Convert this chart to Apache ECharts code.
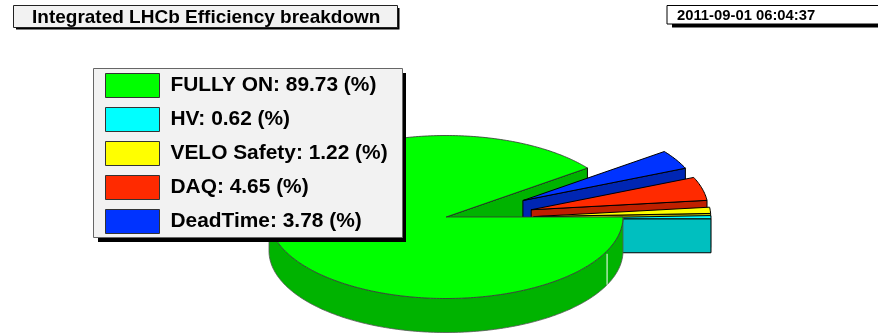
<!DOCTYPE html>
<html>
<head>
<meta charset="utf-8">
<style>html,body{margin:0;padding:0;background:#fff}#chart{width:878px;height:333px}</style>
<script src="https://cdn.jsdelivr.net/npm/echarts@6/dist/echarts.min.js"></script>
</head>
<body>
<div id="chart"></div>
<script>
// Share of integrated luminosity per state, in percent.
const categories = ['FULLY ON', 'HV', 'VELO Safety', 'DAQ', 'DeadTime'];
const efficiency = [89.73, 0.62, 1.22, 4.65, 3.78];
const faceColors = ['#00ff00', '#00ffff', '#ffff00', '#ff2a00', '#0033ff'];
const wallColors = ['#00b300', '#00bfbf', '#bfbf00', '#bf2000', '#0026b3'];
const chartTitle = 'Integrated LHCb Efficiency breakdown';
const stampText = '2011-09-01 06:04:37';

// Pseudo-3D pie geometry.
const RX = 177, RY = 81.5, DEPTH = 34;
const MAIN_CENTER = [446, 217];
const EXPLODE_CENTER = [452, 219.5];
const EXPLODE = 82;
const RAD = Math.PI / 180;
const ARC_STEP = 1;

// Slices run counter-clockwise from 0 deg, the main slice closing the circle.
const total = efficiency.reduce((a, b) => a + b, 0);
const spans = {};
let cursor = 0;
[1, 2, 3, 4, 0].forEach(i => {
  const sweep = efficiency[i] / total * 360;
  spans[i] = [cursor, cursor + sweep];
  cursor += sweep;
});

function centerOf(i) {
  if (i === 0) return MAIN_CENTER;
  const mid = (spans[i][0] + spans[i][1]) / 2 * RAD;
  return [EXPLODE_CENTER[0] + EXPLODE * Math.cos(mid),
          EXPLODE_CENTER[1] - EXPLODE * (RY / RX) * Math.sin(mid)];
}
function rim(c, deg, drop) {
  return [c[0] + RX * Math.cos(deg * RAD), c[1] - RY * Math.sin(deg * RAD) + (drop || 0)];
}
function arc(c, from, to, drop) {
  const pts = [];
  for (let a = from; a < to; a += ARC_STEP) pts.push(rim(c, a, drop));
  pts.push(rim(c, to, drop));
  return pts;
}
function poly(points, fill, width, stroke) {
  return {
    type: 'polygon',
    shape: { points },
    style: { fill, stroke: stroke || '#000', lineWidth: width === undefined ? 1 : width }
  };
}
// Radial wall along the lower edge of a slice, facing the viewer.
function edgeWall(i) {
  const c = centerOf(i), a = spans[i][0];
  return poly([c, rim(c, a), rim(c, a, DEPTH), [c[0], c[1] + DEPTH]], wallColors[i]);
}
function face(i, width, stroke) {
  const c = centerOf(i);
  return poly([c].concat(arc(c, spans[i][0], spans[i][1])), faceColors[i], width, stroke);
}
// Outer wall of the main slice over the near half of the rim.
function rimWall(i) {
  const c = centerOf(i);
  const top = arc(c, 180, 360);
  const bottom = arc(c, 180, 360, DEPTH).reverse();
  return poly(top.concat(bottom), wallColors[i], 0.8, '#555');
}
function seamLine() {
  const c = centerOf(0), p = rim(c, 335.5);
  return {
    type: 'line',
    shape: { x1: p[0], y1: p[1] + 3, x2: p[0], y2: p[1] + DEPTH },
    style: { stroke: '#ffffff', lineWidth: 1 }
  };
}

function pieSeries(i, draw) {
  return {
    type: 'custom',
    name: categories[i],
    coordinateSystem: 'none',
    silent: true,
    itemStyle: { color: faceColors[i] },
    data: [efficiency[i]],
    renderItem: () => ({ type: 'group', children: draw() })
  };
}

const series = [
  pieSeries(0, () => [edgeWall(0)]),
  pieSeries(4, () => [edgeWall(4), face(4)]),
  pieSeries(3, () => [edgeWall(3), face(3)]),
  pieSeries(2, () => [edgeWall(2), face(2)]),
  pieSeries(1, () => [edgeWall(1), face(1)]),
  pieSeries(0, () => [rimWall(0), seamLine(), face(0, 0.8, '#333')])
];

// Flat panels with a hard drop shadow, sitting behind the title and legend text.
function panel(x, y, w, h, sx, sy, sw, sh, fill, stroke, z) {
  return [
    { type: 'rect', z, silent: true, shape: { x: sx, y: sy, width: sw, height: sh }, style: { fill: '#000' } },
    { type: 'rect', z: z + 1, silent: true, shape: { x, y, width: w, height: h }, style: { fill, stroke, lineWidth: 1 } }
  ];
}

const chart = echarts.init(document.getElementById('chart'), null, { renderer: 'canvas' });
chart.setOption({
  animation: false,
  backgroundColor: '#ffffff',
  graphic: {
    elements: [
      ...panel(13.5, 5.5, 384, 22, 16, 8, 383.5, 21.5, '#f2f2f2', '#222', 10),
      ...panel(667, 5.5, 260, 18.5, 672, 8, 260, 19.5, '#ffffff', '#000', 10),
      ...panel(93.5, 68.5, 309, 169, 98, 73, 308, 169, '#f2f2f2', '#666', 10)
    ]
  },
  title: [
    {
      text: chartTitle,
      left: 32, top: 8,
      padding: 0,
      z: 20,
      textStyle: { fontFamily: 'Liberation Sans', fontWeight: 'bold', fontSize: 19, color: '#000', lineHeight: 19 }
    },
    {
      text: stampText,
      left: 677, top: 8,
      padding: 0,
      z: 20,
      textStyle: { fontFamily: 'Liberation Sans', fontWeight: 'bold', fontSize: 14.8, color: '#000', lineHeight: 15 }
    }
  ],
  legend: {
    show: true,
    orient: 'vertical',
    left: 93, top: 68,
    padding: [5, 12, 5, 12],
    data: categories,
    icon: 'rect',
    itemWidth: 54,
    itemHeight: 24,
    itemGap: 9,
    selectedMode: false,
    z: 20,
    itemStyle: { borderColor: '#333', borderWidth: 1 },
    formatter: name => name + ': ' + efficiency[categories.indexOf(name)].toFixed(2) + ' (%)',
    textStyle: { fontFamily: 'Liberation Sans', fontWeight: 'bold', fontSize: 20.9, lineHeight: 24, color: '#000', padding: [0, 0, 0, 6] }
  },
  series
});
</script>
</body>
</html>
